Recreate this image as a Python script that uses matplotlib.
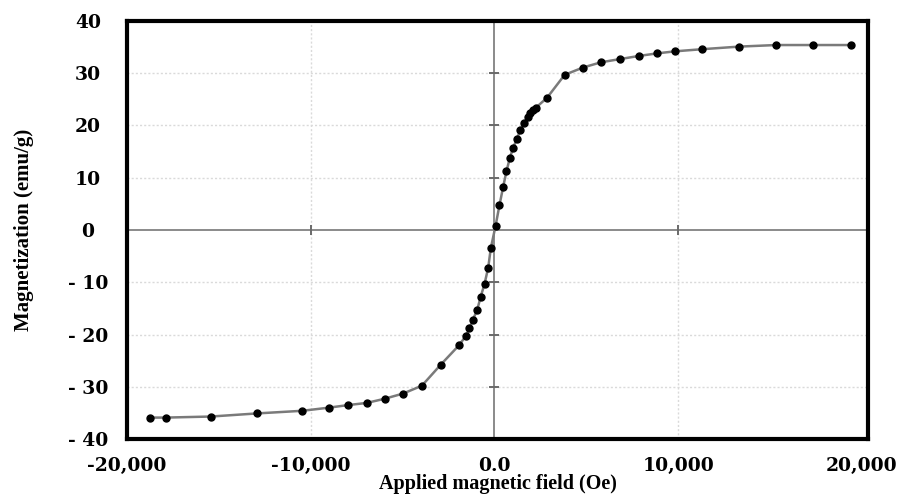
import matplotlib
matplotlib.use("Agg")
import matplotlib.pyplot as plt

# Data
field_oe = [-18730, -17880, -15430, -12900, -10450, -9010, -7950, -6960, -5980, -4970,
            -3950, -2930, -1940, -1540, -1360, -1180, -940, -760, -540, -340, -200,
            60, 270, 470, 650, 830, 1010, 1230, 1410, 1630, 1810, 1960, 2080, 2250,
            2860, 3820, 4820, 5800, 6810, 7840, 8840, 9840, 11290, 13320, 15330,
            17350, 19390]
magnetization = [-35.9, -35.9, -35.7, -35.1, -34.6, -34.0, -33.5, -33.1, -32.3, -31.3,
                 -29.8, -25.8, -22.1, -20.2, -18.8, -17.2, -15.3, -12.9, -10.3, -7.2, -3.5,
                 0.8, 4.7, 8.2, 11.2, 13.7, 15.7, 17.5, 19.2, 20.4, 21.6, 22.3, 22.9, 23.4,
                 25.3, 29.7, 31.1, 32.1, 32.7, 33.3, 33.8, 34.2, 34.6, 35.1, 35.4,
                 35.4, 35.4]

x_ticks = [-20000, -10000, 0, 10000, 20000]
x_tick_labels = ["-20,000", "-10,000", "0.0", "10,000", "20,000"]
y_ticks = [40, 30, 20, 10, 0, -10, -20, -30, -40]
y_tick_labels = ["40", "30", "20", "10", "0", "- 10", "- 20", "- 30", "- 40"]

plt.rcParams['font.family'] = ['Liberation Serif', 'DejaVu Serif']

fig = plt.figure(figsize=(9.06, 4.96), dpi=100)
ax = fig.add_axes([127/906, 1 - 439/496, (868 - 127)/906, (439 - 21)/496])

ax.set_xlim(-20000, 20330)
ax.set_ylim(-40, 40)

# grid
for yv in y_ticks:
    if yv not in (0, 40, -40):
        ax.axhline(yv, color="#dadada", lw=1.0, ls=(0, (1.5, 1.5)), zorder=0)
for xv in x_ticks:
    if xv not in (0, -20000, 20000):
        ax.axvline(xv, color="#dadada", lw=1.0, ls=(0, (1.5, 1.5)), zorder=0)

# zero axes
ax.axhline(0, color="#8a8a8a", lw=1.4, zorder=1)
ax.axvline(0, color="#8a8a8a", lw=1.4, zorder=1)
cross_y = [v for v in y_ticks if v not in (0, 40, -40)]
cross_x = [v for v in x_ticks if v not in (0, -20000, 20000)]
ax.plot([0]*len(cross_y), cross_y, ls="none", marker="_", ms=7, mew=1.4,
        color="#6a6a6a", zorder=1)
ax.plot(cross_x, [0]*len(cross_x), ls="none", marker="|", ms=7, mew=1.4,
        color="#6a6a6a", zorder=1)

# data
ax.plot(field_oe, magnetization, color="#7a7a7a", lw=1.8, zorder=2)
ax.plot(field_oe, magnetization, ls="none", marker="o", ms=5, color="black",
        zorder=3)

for s in ax.spines.values():
    s.set_linewidth(3)
    s.set_color("black")

tick_font = dict(family=["DejaVu Serif"], size=13.5, weight="bold")
ax.set_xticks(x_ticks)
ax.set_xticklabels(x_tick_labels, **tick_font)
ax.set_yticks(y_ticks)
ax.set_yticklabels(y_tick_labels, **tick_font)
ax.tick_params(axis="both", length=0)
ax.tick_params(axis="y", pad=28)
ax.tick_params(axis="x", pad=13)
for lab in ax.get_yticklabels():
    lab.set_horizontalalignment("center")

ax.set_xlabel("Applied magnetic field (Oe)", fontsize=14.5, fontweight="bold")
ax.xaxis.set_label_coords(0.5, -0.083)
ax.set_ylabel("Magnetization (emu/g)", fontsize=15, fontweight="bold")
ax.yaxis.set_label_coords(-0.125, 0.5)

fig.savefig("out.png", dpi=100)
